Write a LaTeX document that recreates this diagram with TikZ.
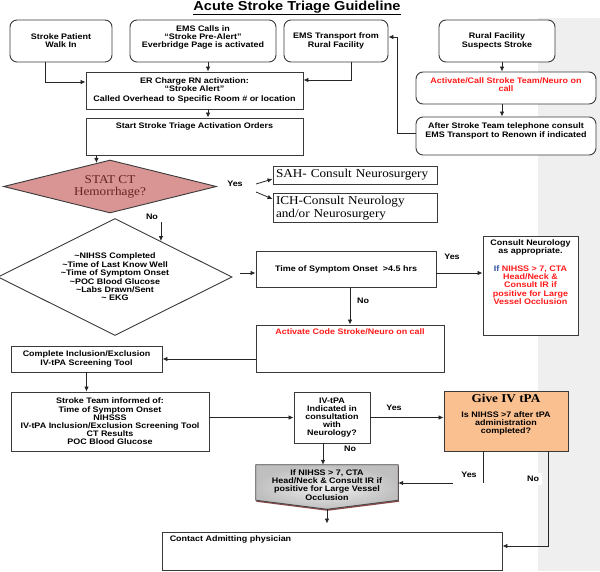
\documentclass[tikz,border=0pt]{standalone}
\usepackage{fontspec}
\setmainfont[FakeStretch=1.12]{Liberation Sans}
\newfontfamily\tnr[FakeStretch=1.1]{Liberation Serif}
\usetikzlibrary{shapes.geometric,arrows.meta,calc}
\definecolor{bord}{HTML}{3A3A3A}
\definecolor{pinkd}{HTML}{D99594}
\definecolor{peach}{HTML}{FAC090}
\definecolor{maroon}{HTML}{632423}
\definecolor{redt}{HTML}{FF1A1A}
\definecolor{bluet}{HTML}{2F4FA0}
\definecolor{strip}{HTML}{EFEFEF}
\definecolor{shadowc}{HTML}{8A4A4A}
\begin{document}
\begin{tikzpicture}[x=1pt,y=-1pt,
  sz/.style 2 args={minimum width=#1pt, minimum height=#2pt},
  box/.style={draw=bord, line width=0.9pt, fill=white, rectangle, inner sep=2pt, align=center, font=\fontsize{8}{8.2}\selectfont\bfseries},
  rbox/.style={box, rounded corners=7pt},
  txt/.style={inner sep=0pt, align=center, font=\fontsize{8}{8.2}\selectfont\bfseries},
  lab/.style={inner sep=1pt, font=\fontsize{8}{8}\selectfont\bfseries},
  tbox/.style={box, font=\tnr\fontsize{12}{12.5}\selectfont, align=left, inner sep=3pt},
  arr/.style={draw=black!85, line width=0.8pt, -{Latex[length=5pt,width=4.5pt]}},
  ln/.style={draw=black!85, line width=0.8pt},
]
\path[use as bounding box] (0,0) rectangle (600,571);
\fill[strip] (538,18) rectangle (600,571);

\node[font=\fontsize{13}{14}\selectfont\bfseries, inner sep=0pt] (title) at (297,8) {\underline{Acute Stroke Triage Guideline}};

% top row
\node[rbox, sz={102}{42}] (walkin) at (61,41) {Stroke Patient\\Walk In};
\node[rbox, sz={146}{42}] (emscalls) at (203,41) {};
\node[txt] (emscallsT) at (203,37.5) {EMS Calls in\\“Stroke Pre-Alert”\\Everbridge Page is activated};
\node[rbox, sz={104}{42}] (emstrans) at (336,41) {EMS Transport from\\Rural Facility};
\node[rbox, sz={116}{42}] (rural) at (497,41) {Rural Facility\\Suspects Stroke};

\node[box, sz={217}{37}] (erbox) at (194.5,90.5) {ER Charge RN activation:\\“Stroke Alert”\\[1.5pt]Called Overhead to Specific Room \# or location};
\node[box, sz={217}{37}] (start) at (194.5,136.5) {};
\node[txt, anchor=north] (startT) at ([yshift=-5pt]start.north) {Start Stroke Triage Activation Orders};

\node[rbox, sz={180}{32}] (activate) at (506,88) {};
\node[txt, text=redt] (activateT) at (506,84.5) {Activate/Call Stroke Team/Neuro on\\call};
\node[rbox, sz={180}{38}] (after) at (506,136) {};
\node[txt] (afterT) at (506,131) {After Stroke Team telephone consult\\EMS Transport to Renown if indicated};

% decisions
\node[diamond, aspect=4, draw=bord, line width=0.9pt, fill=pinkd, minimum width=213pt, minimum height=53pt, inner sep=0pt, align=center, text=maroon, font=\tnr\fontsize{12}{12}\selectfont] (stat) at (110,186.5) {STAT CT\\Hemorrhage?};
\node[tbox, sz={164}{18}, text width=158pt] (sah) at (355,175) {SAH- Consult Neurosurgery};
\node[tbox, sz={164}{28}, text width=158pt] (ich) at (355,208) {ICH-Consult Neurology\\and/or Neurosurgery};

\node[diamond, aspect=2, draw=bord, line width=0.9pt, fill=white, minimum width=234pt, minimum height=117pt, inner sep=0pt, align=center, font=\fontsize{8}{8.4}\selectfont\bfseries] (check) at (115,277) {\textasciitilde NIHSS Completed\\\textasciitilde Time of Last Know Well\\\textasciitilde Time of Symptom Onset\\\textasciitilde POC Blood Glucose\\\textasciitilde Labs Drawn/Sent\\\textasciitilde\ EKG};

\node[box, sz={180}{36}] (time) at (346,269) {Time of Symptom Onset \ >4.5 hrs};
\node[box, sz={95}{99}] (consult) at (530.5,285.5) {};
\node[txt, anchor=north, text=redt] (consultT) at ([yshift=-4pt]consult.north) {\textcolor{black}{Consult Neurology}\\\textcolor{black}{as appropriate.}\\[9.5pt]\textcolor{bluet}{If} NIHSS > 7, CTA\\Head/Neck \&\\Consult IR if\\positive for Large\\Vessel Occlusion};
\node[box, sz={188}{47}] (act) at (350,348.5) {};
\node[txt, anchor=north, text=redt] (actT) at ([yshift=-4pt]act.north) {Activate Code Stroke/Neuro on call};

\node[box, sz={151}{26}] (incl) at (86.5,359) {Complete Inclusion/Exclusion\\IV-tPA Screening Tool};
\node[box, sz={198}{59}] (team) at (110,421.5) {Stroke Team informed of:\\Time of Symptom Onset\\NIHSSS\\IV-tPA Inclusion/Exclusion Screening Tool\\CT Results\\POC Blood Glucose};
\node[box, sz={76}{51}] (iv) at (332,417.5) {IV-tPA\\Indicated in\\consultation\\with\\Neurology?};
\node[box, fill=peach, sz={124}{60}] (give) at (506,421) {};
\node[txt, anchor=north] (giveT) at ([yshift=-3pt]give.north) {{\tnr\fontsize{12}{12}\selectfont Give IV tPA}\\[7pt]Is NIHSS >7 after tPA\\administration\\completed?};

% pentagon
\node[inner sep=0pt, sz={142}{44}] (pent) at (327,487) {};
\begin{scope}[transform canvas={xshift=0.6pt,yshift=-1.6pt}]
\fill[shadowc] (pent.north west) -- (pent.north east) -- ([yshift=9pt]pent.south east) -- (pent.south) -- ([yshift=9pt]pent.south west) -- cycle;
\end{scope}
\shadedraw[inner color=gray!12, outer color=gray!50, draw=gray!55!black, line width=0.8pt] (pent.north west) -- (pent.north east) -- ([yshift=9pt]pent.south east) -- (pent.south) -- ([yshift=9pt]pent.south west) -- cycle;
\node[txt] (pentT) at (327,485) {If NIHSS > 7, CTA\\Head/Neck \& Consult IR if\\positive for Large Vessel\\Occlusion};

\node[box, sz={340}{38}] (contact) at (332,551) {};
\node[txt, anchor=north west] (contactT) at ([xshift=8pt,yshift=-4pt]contact.north west) {Contact Admitting physician};

% connectors
\draw[arr] ([xshift=-16pt]walkin.south) |- ([yshift=8.5pt]erbox.west);
\draw[arr] ([xshift=5pt]emscalls.south) -- ([xshift=13.5pt]erbox.north);
\draw[arr] ([xshift=15pt]emstrans.south) |- ([yshift=10.5pt]erbox.east);
\draw[arr] ([xshift=13.5pt]erbox.south) -- ([xshift=13.5pt]start.north);
\draw[arr] ([xshift=5pt]rural.south) -- ([xshift=-4pt]activate.north);
\draw[arr] ([xshift=-4pt]activate.south) -- ([xshift=-4pt]after.north);
\coordinate (turn) at (397,37);
\draw[arr] ([yshift=3pt]after.west) -| (turn) -- ([yshift=4pt]emstrans.east);
\draw[arr] (start.south -| stat.120) -- (stat.120);
\coordinate (ya) at (256,184);
\coordinate (yb) at (256,192);
\draw[arr] (ya) -- ([yshift=-4pt]sah.west);
\draw[arr] (yb) -- ([yshift=9pt]ich.west);
\coordinate (noS) at (0,222);
\draw[arr] (noS -| check.38) -- (check.38);
\coordinate (ct) at (240,273);
\draw[arr] (ct) -- (ct -| time.west);
\coordinate (te) at ([yshift=-4pt]time.east);
\draw[arr] (te) -- (te -| consult.west);
\draw[arr] (time.south -| act.north) -- (act.north);
\draw[arr] (act.west |- incl.east) -- (incl.east);
\draw[arr] (incl.south) -- (incl.south |- team.north);
\draw[arr] (team.east |- iv.west) -- (iv.west);
\draw[arr] (iv.east) -- (iv.east -| give.west);
\coordinate (c323) at (323,0);
\draw[arr] (iv.south -| c323) -- (c323 |- pent.north);
\coordinate (yv) at (483,483);
\coordinate (yh) at (453,483);
\draw[ln] (give.south -| yv) -- (yv);
\draw[arr] (yh) -- (yh -| pent.east);
\draw[arr] ([xshift=42pt]give.south) |- ([yshift=5pt]contact.east);
\draw[arr, shorten >=8pt] (pent.south) -- (contact.north -| pent.south);

% labels
\node[lab] (yes1) at (235,184) {Yes};
\node[lab] (no1) at (152,217) {No};
\node[lab] (yes2) at (452,257) {Yes};
\node[lab] (no2) at (363,301) {No};
\node[lab] (yes3) at (394,408) {Yes};
\node[lab] (no3) at (350,449) {No};
\node[lab, fill=white, inner sep=2.5pt] (yes4) at (469,475) {Yes};
\node[lab, fill=white, inner sep=3pt] (no4) at (533,479) {No};
\end{tikzpicture}
\end{document}
